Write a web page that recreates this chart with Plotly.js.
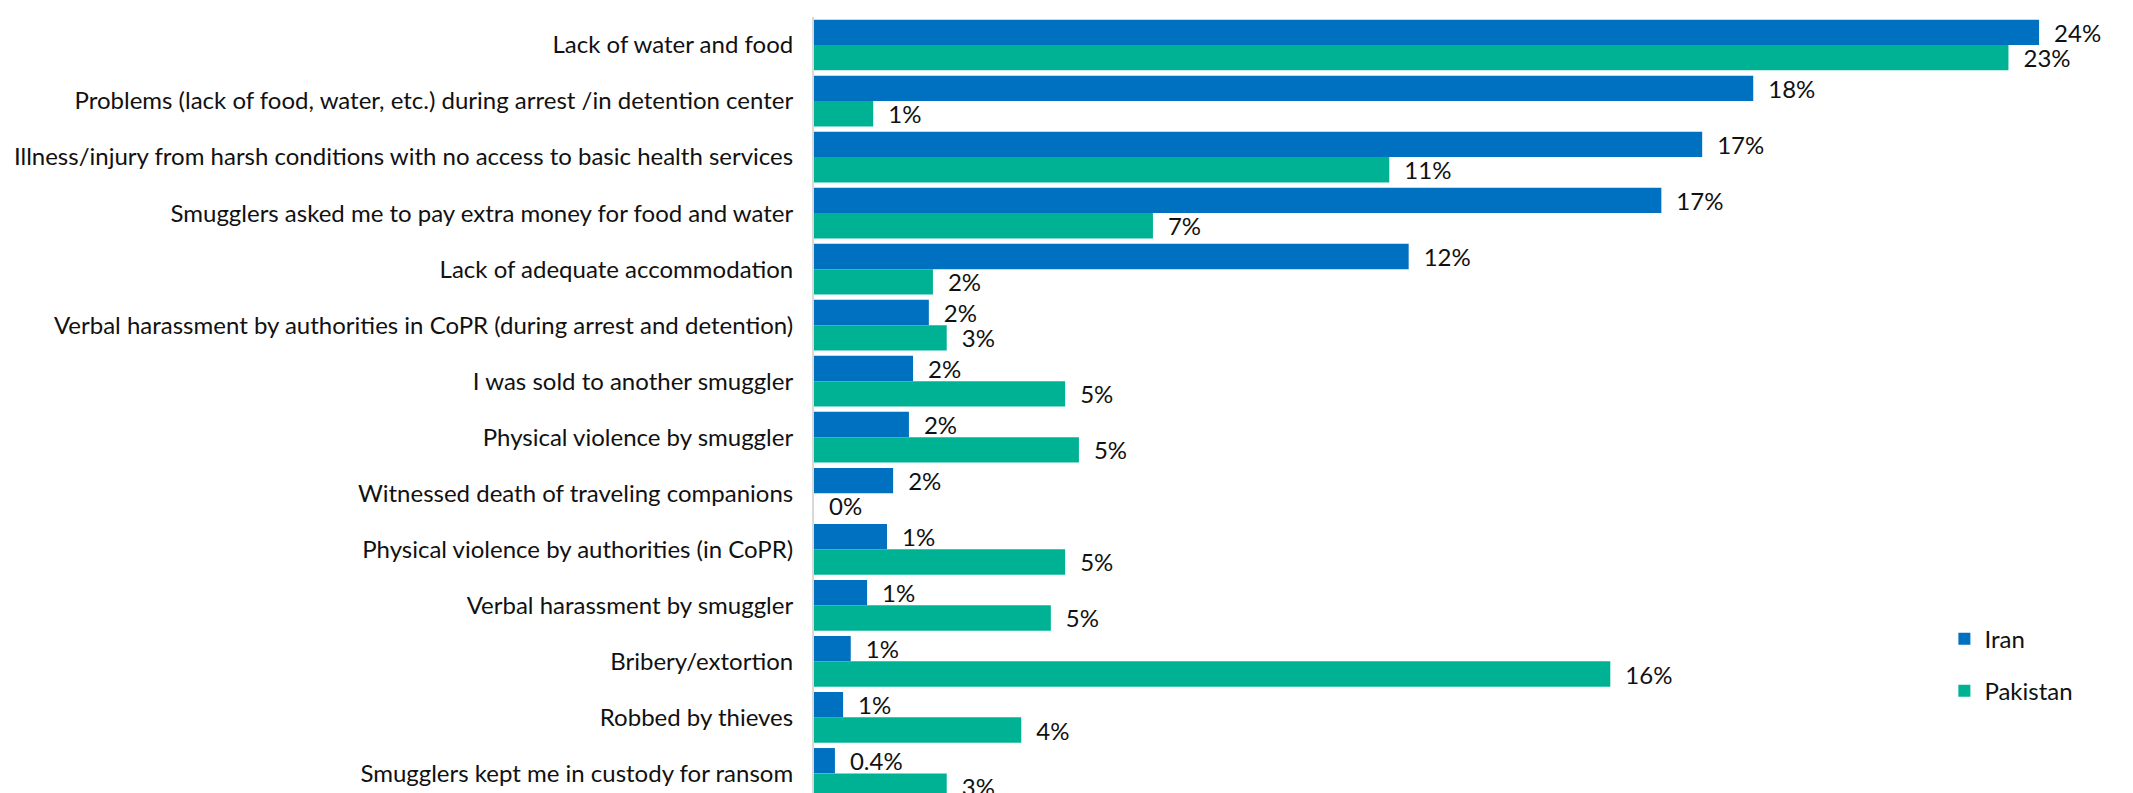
<!DOCTYPE html>
<html>
<head>
<meta charset="utf-8">
<script src="https://cdn.plot.ly/plotly-3.0.1.min.js"></script>
<style>html,body{margin:0;padding:0;background:#fff;}#chart{width:2133px;height:793px;}</style>
</head>
<body>
<div id="chart"></div>
<script>
const categories = [
  "Lack of water and food",
  "Problems (lack of food, water, etc.) during arrest /in detention center",
  "Illness/injury from harsh conditions with no access to basic health services",
  "Smugglers asked me to pay extra money for food and water",
  "Lack of adequate accommodation",
  "Verbal harassment by authorities in CoPR (during arrest and detention)",
  "I was sold to another smuggler",
  "Physical violence by smuggler",
  "Witnessed death of traveling companions",
  "Physical violence by authorities (in CoPR)",
  "Verbal harassment by smuggler",
  "Bribery/extortion",
  "Robbed by thieves",
  "Smugglers kept me in custody for ransom"
];
const iranValues = [24.0, 18.4, 17.4, 16.6, 11.65, 2.25, 1.94, 1.86, 1.55, 1.43, 1.04, 0.72, 0.57, 0.41];
const pakistanValues = [23.4, 1.16, 11.27, 6.64, 2.33, 2.6, 4.92, 5.19, 0, 4.92, 4.64, 15.6, 4.06, 2.6];
const iranLabels = ["24%", "18%", "17%", "17%", "12%", "2%", "2%", "2%", "2%", "1%", "1%", "1%", "1%", "0.4%"];
const pakistanLabels = ["23%", "1%", "11%", "7%", "2%", "3%", "5%", "5%", "0%", "5%", "5%", "16%", "4%", "3%"];

const FONT = "Lato, 'Open Sans', sans-serif";
const pad = "\u2002";

const traces = [
  {
    type: "bar", orientation: "h", name: "Iran",
    y: categories, x: iranValues,
    text: iranLabels.map(t => pad + t),
    textposition: "outside", constraintext: "none", cliponaxis: false,
    textfont: {family: FONT, size: 24, color: "#111"},
    marker: {color: "#0070C0"},
    legendgroup: "a", hoverinfo: "x+y"
  },
  {
    type: "bar", orientation: "h", name: "Pakistan",
    y: categories, x: pakistanValues,
    text: pakistanLabels.map(t => pad + t),
    textposition: "outside", constraintext: "none", cliponaxis: false,
    textfont: {family: FONT, size: 24, color: "#111"},
    marker: {color: "#00B294"},
    legendgroup: "b", hoverinfo: "x+y"
  }
];

const layout = {
  width: 2133, height: 793,
  margin: {l: 814, r: 0, t: 17, b: 0, pad: 0},
  paper_bgcolor: "#fff", plot_bgcolor: "#fff",
  barmode: "group", bargap: 0.095, bargroupgap: 0,
  font: {family: FONT, size: 24, color: "#111"},
  xaxis: {range: [0, 25.84], showgrid: false, zeroline: false, showticklabels: false, showline: false, ticks: "", fixedrange: true},
  yaxis: {type: "category", range: [13.35, -0.5], showgrid: false, zeroline: false, showline: true, linecolor: "#d9d9d9", linewidth: 2,
          ticks: "", ticklabelstandoff: 14, automargin: false, tickfont: {family: FONT, size: 24, color: "#111"}},
  showlegend: true,
  legend: {x: 0.8570, y: 0.2274, xanchor: "left", yanchor: "top", traceorder: "grouped", tracegroupgap: 18,
           font: {family: FONT, size: 24, color: "#111"}, bgcolor: "rgba(0,0,0,0)"}
};

Plotly.newPlot("chart", traces, layout, {displayModeBar: false, staticPlot: true});
</script>
</body>
</html>
